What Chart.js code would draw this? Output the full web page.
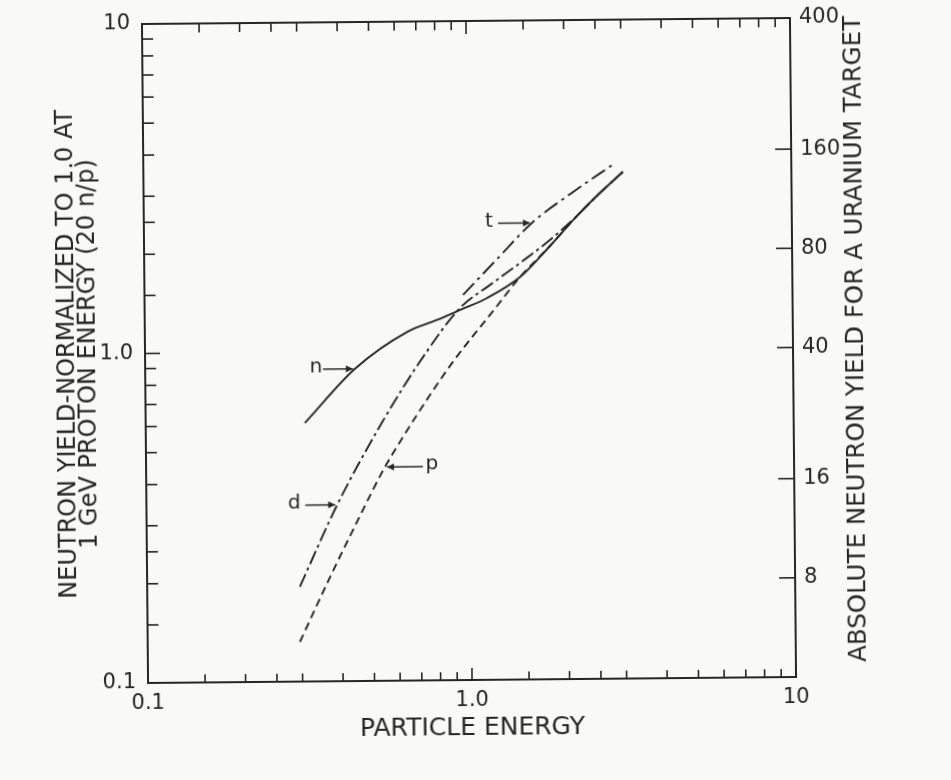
<!DOCTYPE html>
<html>
  <head>
    <title>Neutron yield vs particle energy</title>
    <script src="https://cdn.jsdelivr.net/npm/chart.js@4"></script>
    <style>
      html, body { margin: 0; background: #f9f9f7; }
      #yield-chart {
        display: block;
        transform: rotate(-0.53deg);
        transform-origin: 469px 350px;
      }
    </style>
  </head>
  <body>
    <canvas id="yield-chart" width="951" height="780"></canvas>
    <script>
      // Yield normalized to 1.0 at 1 GeV protons, energy in GeV
      const nEnergy = [0.310, 0.444, 0.645, 0.798, 0.941, 1.14, 1.444, 1.79, 2.17, 2.56, 3.02]
      const nYield = [0.609, 0.886, 1.143, 1.24, 1.328, 1.441, 1.665, 2.065, 2.54, 2.98, 3.45]

      const pEnergy = [0.295, 0.367, 0.446, 0.546, 0.622, 0.756, 0.905, 1.19, 1.444, 1.79, 2.17, 2.56, 3.02]
      const pYield = [0.132, 0.207, 0.304, 0.4455, 0.549, 0.735, 0.943, 1.316, 1.665, 2.065, 2.54, 2.98, 3.45]

      const dEnergy = [0.296, 0.388, 0.540, 0.721, 0.941, 1.166, 1.445, 1.79, 2.17, 2.56, 3.02]
      const dYield = [0.194, 0.343, 0.615, 0.958, 1.347, 1.579, 1.837, 2.153, 2.54, 2.98, 3.45]

      const tEnergy = [0.962, 1.228, 1.578, 2.117, 2.857]
      const tYield = [1.475, 1.891, 2.43, 3.006, 3.67]

      // axis ticks
      const labelTicks = [0.1, 1, 10]
      const energyLabels = ["0.1", "1.0", "10"]
      const yieldLabels = ["0.1", "1.0", "10"]
      const minorTicks = [0.15, 0.2, 0.25, 0.3, 0.4, 0.5, 0.6, 0.7, 0.8, 0.9, 1.5, 2, 2.5, 3, 4, 5, 6, 7, 8, 9]
      const majorTicks = [1]
      const absoluteTicks = [8, 16, 40, 80, 160, 400]

      const ink = "#262626"
      const family = "'DejaVu Sans', sans-serif"

      function curve(label, energy, yields, dash) {
        return {
          label,
          data: energy.map((e, i) => ({ x: e, y: yields[i] })),
          borderColor: ink,
          borderWidth: 1.9,
          borderDash: dash,
          pointRadius: 0,
          cubicInterpolationMode: "monotone",
          fill: false,
        }
      }

      // arrows pointing at a curve sample, offsets in px from that sample
      const arrowNotes = [
        { dataset: 0, index: 1, text: "n", arrow: -32, textAt: -39 },
        { dataset: 2, index: 1, text: "d", arrow: -32, textAt: -43 },
        { dataset: 1, index: 3, text: "p", arrow: 38, textAt: 47 },
        { dataset: 3, index: 2, text: "t", arrow: -34, textAt: -43 },
      ]

      const frameAndNotes = {
        id: "frameAndNotes",
        afterDraw(chart) {
          const { ctx, chartArea: a, scales } = chart
          ctx.save()
          ctx.strokeStyle = ink
          ctx.fillStyle = ink
          ctx.lineCap = "butt"

          ctx.lineWidth = 2
          ctx.strokeRect(a.left, a.top, a.right - a.left, a.bottom - a.top)

          const seg = (x1, y1, x2, y2) => {
            ctx.beginPath()
            ctx.moveTo(x1, y1)
            ctx.lineTo(x2, y2)
            ctx.stroke()
          }

          // inward ticks on the energy axis, top and bottom
          ctx.lineWidth = 1.6
          minorTicks.forEach(v => {
            const x = scales.x.getPixelForValue(v)
            seg(x, a.bottom, x, a.bottom - 8)
            seg(x, a.top, x, a.top + 9)
          })
          majorTicks.forEach(v => {
            const x = scales.x.getPixelForValue(v)
            seg(x, a.bottom, x, a.bottom - 12)
            seg(x, a.top, x, a.top + 13)
          })

          // left axis ticks
          minorTicks.forEach(v => {
            const y = scales.y.getPixelForValue(v)
            seg(a.left, y, a.left + 11, y)
          })
          majorTicks.forEach(v => {
            const y = scales.y.getPixelForValue(v)
            seg(a.left, y, a.left + 15, y)
          })

          // right axis ticks
          absoluteTicks.forEach(v => {
            const y = scales.y2.getPixelForValue(v)
            seg(a.right, y, a.right - 16, y)
          })

          // curve labels with arrows
          ctx.font = `20px ${family}`
          ctx.textAlign = "center"
          ctx.textBaseline = "middle"
          ctx.lineWidth = 1.5
          arrowNotes.forEach(note => {
            const pt = chart.data.datasets[note.dataset].data[note.index]
            const tx = scales.x.getPixelForValue(pt.x)
            const ty = scales.y.getPixelForValue(pt.y)
            const dir = Math.sign(note.arrow)
            const tipX = tx + dir * 2
            seg(tx + note.arrow, ty, tipX, ty)
            ctx.beginPath()
            ctx.moveTo(tipX, ty)
            ctx.lineTo(tipX + dir * 7, ty - 3.5)
            ctx.lineTo(tipX + dir * 7, ty + 3.5)
            ctx.closePath()
            ctx.fill()
            ctx.fillText(note.text, tx + note.textAt, ty - 2)
          })

          // right axis title, reading upward
          ctx.font = `24.5px ${family}`
          ctx.translate(a.right + 64, (a.top + a.bottom) / 2 - 8)
          ctx.rotate(-Math.PI / 2)
          ctx.fillText("ABSOLUTE NEUTRON YIELD FOR A URANIUM TARGET", 0, 0)
          ctx.restore()
        },
      }

      const tickFont = { family, size: 21 }

      new Chart(document.getElementById("yield-chart"), {
        type: "line",
        data: {
          datasets: [
            curve("n", nEnergy, nYield, []),
            curve("p", pEnergy, pYield, [8, 5]),
            curve("d", dEnergy, dYield, [14, 4, 3, 4]),
            curve("t", tEnergy, tYield, [16, 5, 3, 5]),
          ],
        },
        options: {
          responsive: false,
          animation: false,
          events: [],
          layout: { padding: { top: 21 } },
          plugins: {
            legend: { display: false },
            tooltip: { enabled: false },
          },
          scales: {
            x: {
              type: "logarithmic",
              position: "bottom",
              min: 0.1,
              max: 10,
              grid: { display: false },
              border: { display: false },
              afterBuildTicks: s => { s.ticks = labelTicks.map(v => ({ value: v })) },
              afterFit: s => { s.height = 100 },
              ticks: {
                autoSkip: false,
                maxRotation: 0,
                padding: 0,
                color: ink,
                font: tickFont,
                callback: (v, i) => energyLabels[i],
              },
              title: {
                display: true,
                text: "PARTICLE ENERGY",
                color: ink,
                font: { family, size: 25, lineHeight: 1 },
                padding: { top: 0, bottom: 39 },
              },
            },
            y: {
              type: "logarithmic",
              position: "left",
              min: 0.1,
              max: 10,
              grid: { display: false },
              border: { display: false },
              afterBuildTicks: s => { s.ticks = labelTicks.map(v => ({ value: v })) },
              afterFit: s => { s.width = 145 },
              ticks: {
                autoSkip: false,
                padding: 4,
                color: ink,
                font: tickFont,
                callback: (v, i) => yieldLabels[i],
              },
              title: {
                display: true,
                text: ["NEUTRON YIELD-NORMALIZED TO 1.0 AT", "1 GeV PROTON ENERGY (20 n/p)"],
                color: ink,
                font: { family, size: 24, lineHeight: 0.88 },
                padding: { top: 57, bottom: 0 },
              },
            },
            y2: {
              type: "logarithmic",
              position: "right",
              min: 4,
              max: 400,
              grid: { display: false },
              border: { display: false },
              afterBuildTicks: s => { s.ticks = absoluteTicks.map(v => ({ value: v })) },
              afterFit: s => { s.width = 158 },
              ticks: {
                autoSkip: false,
                padding: 1,
                color: ink,
                font: tickFont,
                callback: v => String(v),
              },
            },
          },
        },
        plugins: [frameAndNotes],
      })
    </script>
  </body>
</html>
